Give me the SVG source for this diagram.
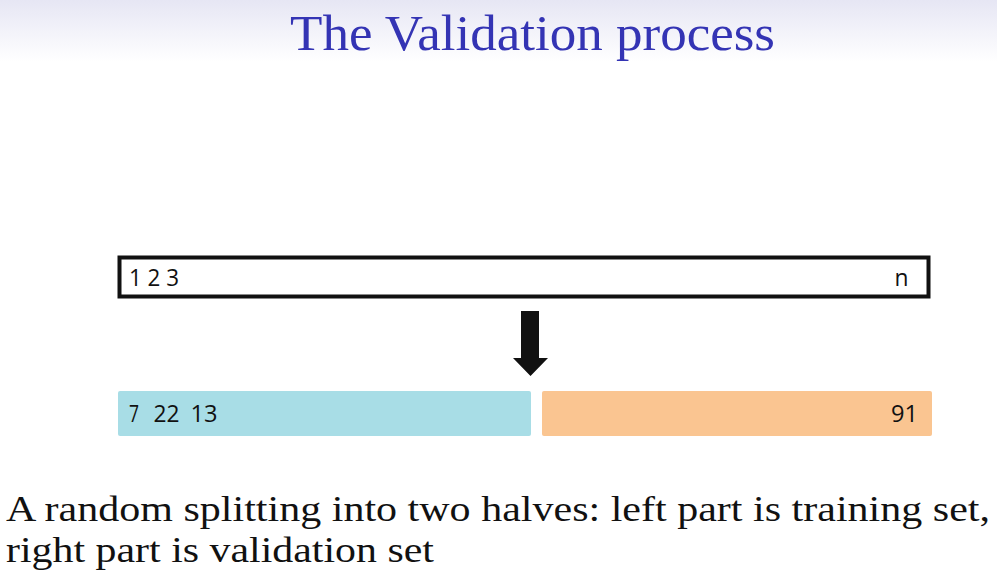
<svg xmlns="http://www.w3.org/2000/svg" width="997" height="582" viewBox="0 0 997 582">
<defs>
<linearGradient id="bg" x1="0" y1="0" x2="0" y2="1">
<stop offset="0" stop-color="#e6e6f4"/>
<stop offset="1" stop-color="#ffffff"/>
</linearGradient>
<style>
.num{font-family:"Open Sans","Noto Sans",sans-serif;font-size:23px;fill:#111}
.serif{font-family:"Liberation Serif","DejaVu Serif",serif}
</style>
</defs>
<rect x="0" y="0" width="997" height="582" fill="#fff"/>
<rect x="0" y="0" width="997" height="62" fill="url(#bg)"/>
<text class="serif" x="290" y="50" font-size="50" fill="#3434b4" textLength="485" lengthAdjust="spacingAndGlyphs">The Validation process</text>
<g id="full-set">
<rect x="119.5" y="257.5" width="809" height="39" fill="#fff" stroke="#111" stroke-width="4"/>
<text class="num" x="129" y="286" textLength="50" lengthAdjust="spacingAndGlyphs">1 2 3</text>
<text class="num" x="894.5" y="286" textLength="14" lengthAdjust="spacingAndGlyphs">n</text>
</g>
<g id="connectors">
<path d="M521,311 H539 V358 H548 L530.5,376 L513,358 H521 Z" fill="#111"/>
</g>
<g id="training">
<rect x="118" y="391" width="413" height="45" rx="2" fill="#a8dde6"/>
<text class="num" x="129" y="422" textLength="10" lengthAdjust="spacingAndGlyphs">7</text>
<text class="num" x="153.5" y="422" textLength="26" lengthAdjust="spacingAndGlyphs">22</text>
<text class="num" x="190.5" y="422" textLength="27" lengthAdjust="spacingAndGlyphs">13</text>
</g>
<g id="validation">
<rect x="542" y="391" width="390" height="45" rx="2" fill="#fac591"/>
<text class="num" x="891" y="422" textLength="27" lengthAdjust="spacingAndGlyphs">91</text>
</g>
<text class="serif" x="6" y="521" font-size="36" fill="#111" textLength="984" lengthAdjust="spacingAndGlyphs">A random splitting into two halves: left part is training set,</text>
<text class="serif" x="6" y="562" font-size="36" fill="#111" textLength="428" lengthAdjust="spacingAndGlyphs">right part is validation set</text>
</svg>
